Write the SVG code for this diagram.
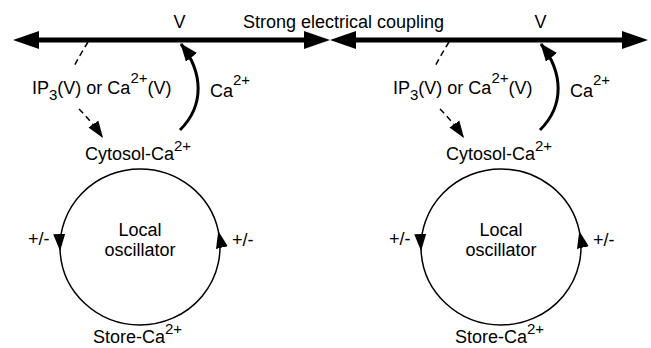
<svg xmlns="http://www.w3.org/2000/svg" width="651" height="348" viewBox="0 0 651 348">
<style>
text{font-family:"Liberation Sans",Arial,sans-serif;font-size:18px;fill:#000}
.sm{font-size:15px}
.bus{fill:none;stroke:#000;stroke-width:5}
.dash{fill:none;stroke:#000;stroke-width:1.5;stroke-dasharray:6 4}
.ca{fill:none;stroke:#000;stroke-width:3}
.osc{fill:none;stroke:#000;stroke-width:1.5}
.mid{text-anchor:middle}
</style>
<defs>
<marker id="big" markerUnits="userSpaceOnUse" markerWidth="28" markerHeight="20" viewBox="0 -10 28 20" refX="0" refY="0" orient="auto-start-reverse"><path d="M0,-9 L26,0 L0,9 z" fill="#000"/></marker>
<marker id="thick" markerUnits="userSpaceOnUse" markerWidth="20" markerHeight="16" viewBox="0 -8 20 16" refX="17" refY="0" orient="auto"><path d="M0,-7 L18,0 L0,7 z" fill="#000"/></marker>
<marker id="thin" markerUnits="userSpaceOnUse" markerWidth="19" markerHeight="14" viewBox="0 -7 19 14" refX="17" refY="0" orient="auto"><path d="M0,-6 L17,0 L0,6 z" fill="#000"/></marker>
<marker id="circ" markerUnits="userSpaceOnUse" markerWidth="20" markerHeight="14" viewBox="0 -7 20 14" refX="17" refY="0" orient="auto"><path d="M0,-6 L17,0 L0,6 z" fill="#000"/></marker>
</defs>

<g id="connectors">
<path class="bus" d="M39,40 H304" marker-start="url(#big)" marker-end="url(#big)"/>
<path class="bus" d="M356,40 H622" marker-start="url(#big)" marker-end="url(#big)"/>
<path class="dash" d="M88,42 Q80,55 73,68 M79,109 Q92,122 103,138" marker-end="url(#thin)"/>
<path class="dash" d="M449,42 Q441,55 434,68 M440,109 Q453,122 464,138" marker-end="url(#thin)"/>
<path class="ca" d="M180,130 C205,105 203,72 181,44" marker-end="url(#thick)"/>
<path class="ca" d="M540,130 C565,105 563,72 541,44" marker-end="url(#thick)"/>
<path class="osc" d="M140,169 A80,78 0 0 0 60.1,251 A80,78 0 0 0 140,325" marker-mid="url(#circ)"/>
<path class="osc" d="M140,325 A80,78 0 0 0 218.3,231 A80,78 0 0 0 140,169" marker-mid="url(#circ)"/>
<path class="osc" d="M501,169 A80,78 0 0 0 421.1,251 A80,78 0 0 0 501,325" marker-mid="url(#circ)"/>
<path class="osc" d="M501,325 A80,78 0 0 0 579.3,231 A80,78 0 0 0 501,169" marker-mid="url(#circ)"/>
</g>

<g id="coupling-label"><text x="243" y="28">Strong electrical coupling</text></g>

<g id="cell1-V"><text class="mid" x="179.5" y="28">V</text></g>
<g id="cell1-ip3-label"><text x="32" y="94">IP<tspan class="sm" dy="6">3</tspan><tspan dy="-6">(V) or Ca</tspan><tspan class="sm" dy="-11">2+</tspan><tspan dy="11">(V)</tspan></text></g>
<g id="cell1-ca-label"><text x="210" y="97">Ca<tspan class="sm" dy="-12">2+</tspan></text></g>
<g id="cell1-cytosol"><text x="85" y="160">Cytosol-Ca<tspan class="sm" dy="-9">2+</tspan></text></g>
<g id="cell1-oscillator"><text class="mid" x="140" y="236">Local</text><text class="mid" x="140" y="256">oscillator</text></g>
<g id="cell1-pm-left"><text x="28" y="245">+/-</text></g>
<g id="cell1-pm-right"><text x="232" y="246">+/-</text></g>
<g id="cell1-store"><text x="93" y="343">Store-Ca<tspan class="sm" dy="-9">2+</tspan></text></g>

<g id="cell2-V"><text class="mid" x="540.5" y="28">V</text></g>
<g id="cell2-ip3-label"><text x="393" y="94">IP<tspan class="sm" dy="6">3</tspan><tspan dy="-6">(V) or Ca</tspan><tspan class="sm" dy="-11">2+</tspan><tspan dy="11">(V)</tspan></text></g>
<g id="cell2-ca-label"><text x="570" y="97">Ca<tspan class="sm" dy="-12">2+</tspan></text></g>
<g id="cell2-cytosol"><text x="446" y="160">Cytosol-Ca<tspan class="sm" dy="-9">2+</tspan></text></g>
<g id="cell2-oscillator"><text class="mid" x="501" y="236">Local</text><text class="mid" x="501" y="256">oscillator</text></g>
<g id="cell2-pm-left"><text x="389" y="245">+/-</text></g>
<g id="cell2-pm-right"><text x="593" y="246">+/-</text></g>
<g id="cell2-store"><text x="455" y="343">Store-Ca<tspan class="sm" dy="-9">2+</tspan></text></g>
</svg>
